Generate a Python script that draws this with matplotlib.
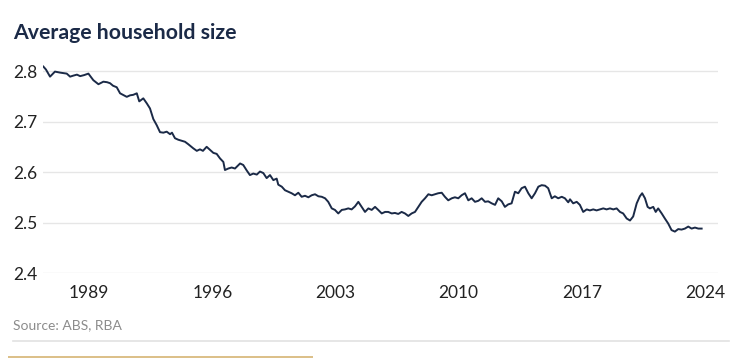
import matplotlib
matplotlib.use("Agg")
import matplotlib.pyplot as plt
from matplotlib.lines import Line2D
from matplotlib.patches import Rectangle

# ---- data ----
years = [
    1986.40, 1986.55, 1986.78, 1987.06, 1987.35, 1987.73, 1987.92, 1988.10, 1988.31, 1988.49,
    1988.71, 1988.96, 1989.24, 1989.53, 1989.81, 1990.02, 1990.19, 1990.36, 1990.57, 1990.76,
    1991.14, 1991.33, 1991.51, 1991.71, 1991.85, 1992.08, 1992.28, 1992.46, 1992.65, 1992.84,
    1993.03, 1993.22, 1993.41, 1993.60, 1993.71, 1993.88, 1994.07, 1994.26, 1994.45, 1994.64,
    1994.92, 1995.12, 1995.30, 1995.47, 1995.68, 1995.87, 1996.06, 1996.25, 1996.44, 1996.63,
    1996.72, 1996.91, 1997.10, 1997.29, 1997.58, 1997.76, 1997.96, 1998.14, 1998.33, 1998.53,
    1998.71, 1998.90, 1999.09, 1999.28, 1999.47, 1999.66, 1999.75, 1999.95, 2000.13, 2000.32,
    2000.51, 2000.70, 2000.89, 2001.08, 2001.27, 2001.46, 2001.65, 2001.84, 2002.03, 2002.22,
    2002.41, 2002.59, 2002.79, 2002.97, 2003.16, 2003.36, 2003.54, 2003.73, 2003.92, 2004.11,
    2004.30, 2004.49, 2004.68, 2004.87, 2005.06, 2005.25, 2005.43, 2005.63, 2005.82, 2006.00,
    2006.20, 2006.38, 2006.57, 2006.76, 2006.95, 2007.14, 2007.33, 2007.52, 2007.71, 2007.90,
    2008.09, 2008.28, 2008.47, 2008.66, 2008.84, 2009.04, 2009.22, 2009.41, 2009.61, 2009.79,
    2009.98, 2010.17, 2010.36, 2010.55, 2010.74, 2010.93, 2011.12, 2011.31, 2011.50, 2011.68,
    2011.88, 2012.07, 2012.25, 2012.45, 2012.63, 2012.82, 2013.01, 2013.20, 2013.39, 2013.58,
    2013.77, 2013.96, 2014.15, 2014.34, 2014.53, 2014.72, 2014.91, 2015.09, 2015.29, 2015.47,
    2015.66, 2015.86, 2016.04, 2016.23, 2016.33, 2016.51, 2016.71, 2016.89, 2017.08, 2017.28,
    2017.46, 2017.65, 2017.84, 2018.03, 2018.22, 2018.41, 2018.60, 2018.79, 2018.98, 2019.17,
    2019.35, 2019.55, 2019.74, 2019.92, 2020.12, 2020.30, 2020.43, 2020.59, 2020.74, 2020.87,
    2021.06, 2021.20, 2021.34, 2021.54, 2021.72, 2021.91, 2022.10, 2022.29, 2022.48, 2022.67,
    2022.86, 2023.05, 2023.24, 2023.43, 2023.62, 2023.81,
]
household_size = [
    2.809, 2.803, 2.789, 2.799, 2.797, 2.795, 2.789, 2.791, 2.793, 2.790,
    2.792, 2.795, 2.782, 2.774, 2.779, 2.778, 2.776, 2.771, 2.768, 2.756,
    2.749, 2.752, 2.753, 2.756, 2.740, 2.746, 2.736, 2.726, 2.705, 2.693,
    2.679, 2.678, 2.680, 2.675, 2.678, 2.667, 2.664, 2.662, 2.660, 2.655,
    2.647, 2.642, 2.645, 2.642, 2.650, 2.644, 2.638, 2.636, 2.627, 2.620,
    2.604, 2.607, 2.609, 2.607, 2.617, 2.614, 2.603, 2.594, 2.597, 2.595,
    2.601, 2.598, 2.588, 2.594, 2.584, 2.587, 2.575, 2.571, 2.564, 2.561,
    2.558, 2.554, 2.559, 2.551, 2.553, 2.550, 2.554, 2.556, 2.552, 2.551,
    2.548, 2.541, 2.528, 2.525, 2.518, 2.525, 2.526, 2.528, 2.526, 2.532,
    2.541, 2.531, 2.521, 2.528, 2.525, 2.531, 2.525, 2.518, 2.521, 2.521,
    2.518, 2.519, 2.517, 2.521, 2.518, 2.513, 2.518, 2.521, 2.531, 2.541,
    2.548, 2.556, 2.554, 2.556, 2.558, 2.559, 2.551, 2.544, 2.548, 2.550,
    2.548, 2.554, 2.558, 2.544, 2.548, 2.541, 2.543, 2.548, 2.541, 2.542,
    2.538, 2.535, 2.548, 2.542, 2.531, 2.536, 2.538, 2.561, 2.558, 2.568,
    2.571, 2.558, 2.548, 2.558, 2.571, 2.574, 2.573, 2.568, 2.548, 2.552,
    2.548, 2.551, 2.548, 2.540, 2.546, 2.538, 2.541, 2.535, 2.521, 2.526,
    2.524, 2.526, 2.524, 2.526, 2.528, 2.526, 2.528, 2.526, 2.528, 2.521,
    2.518, 2.508, 2.504, 2.512, 2.538, 2.552, 2.558, 2.548, 2.531, 2.528,
    2.531, 2.521, 2.528, 2.518, 2.508, 2.498, 2.485, 2.482, 2.487, 2.486,
    2.488, 2.492, 2.488, 2.490, 2.488, 2.488,
]
y_ticks = [2.4, 2.5, 2.6, 2.7, 2.8]
x_ticks = [1989, 1996, 2003, 2010, 2017, 2024]
title = "Average household size"
source = "Source: ABS, RBA"

# ---- styling ----
plt.rcParams['font.family'] = ['Lato', 'DejaVu Sans']
navy = "#1b2a47"
W, H = 740, 358
fig = plt.figure(figsize=(W / 100, H / 100), dpi=100)

left, right = 43 / W, 718 / W
bottom, top = (H - 273) / H, (H - 61) / H
ax = fig.add_axes([left, bottom, right - left, top - bottom])
ax.plot(years, household_size, color=navy, lw=1.4, solid_joinstyle='round')

ax.set_xlim(1986.38, 2024.74)
ax.set_ylim(2.4, 2.82)
ax.set_yticks(y_ticks)
ax.set_yticklabels([f"{v:.1f}" for v in y_ticks])
ax.set_xticks(x_ticks)
ax.set_xticklabels([str(v) for v in x_ticks])
for s in ax.spines.values():
    s.set_visible(False)
ax.tick_params(axis='both', length=0, labelsize=12.5, labelcolor="#222222")
ax.tick_params(axis='x', pad=9)
ax.tick_params(axis='y', pad=4)
ax.grid(axis='y', color="#e6e6e6", lw=1.0)
ax.set_axisbelow(True)

fig.text(13 / W, 1 - 33 / H, title, fontsize=15.3, fontweight='bold', color=navy,
         ha='left', va='center')
fig.text(13 / W, 1 - 325 / H, source, fontsize=10, color="#8c8c8c",
         ha='left', va='center')

fig.add_artist(Line2D([13 / W, 729 / W], [1 - 341 / H, 1 - 341 / H],
                      color="#e2e2e2", lw=1.2, transform=fig.transFigure))
fig.add_artist(Rectangle((8 / W, 0), (313 - 8) / W, 2 / H, color="#dcc08a",
                         transform=fig.transFigure, lw=0))

fig.savefig("out.png", dpi=100)
